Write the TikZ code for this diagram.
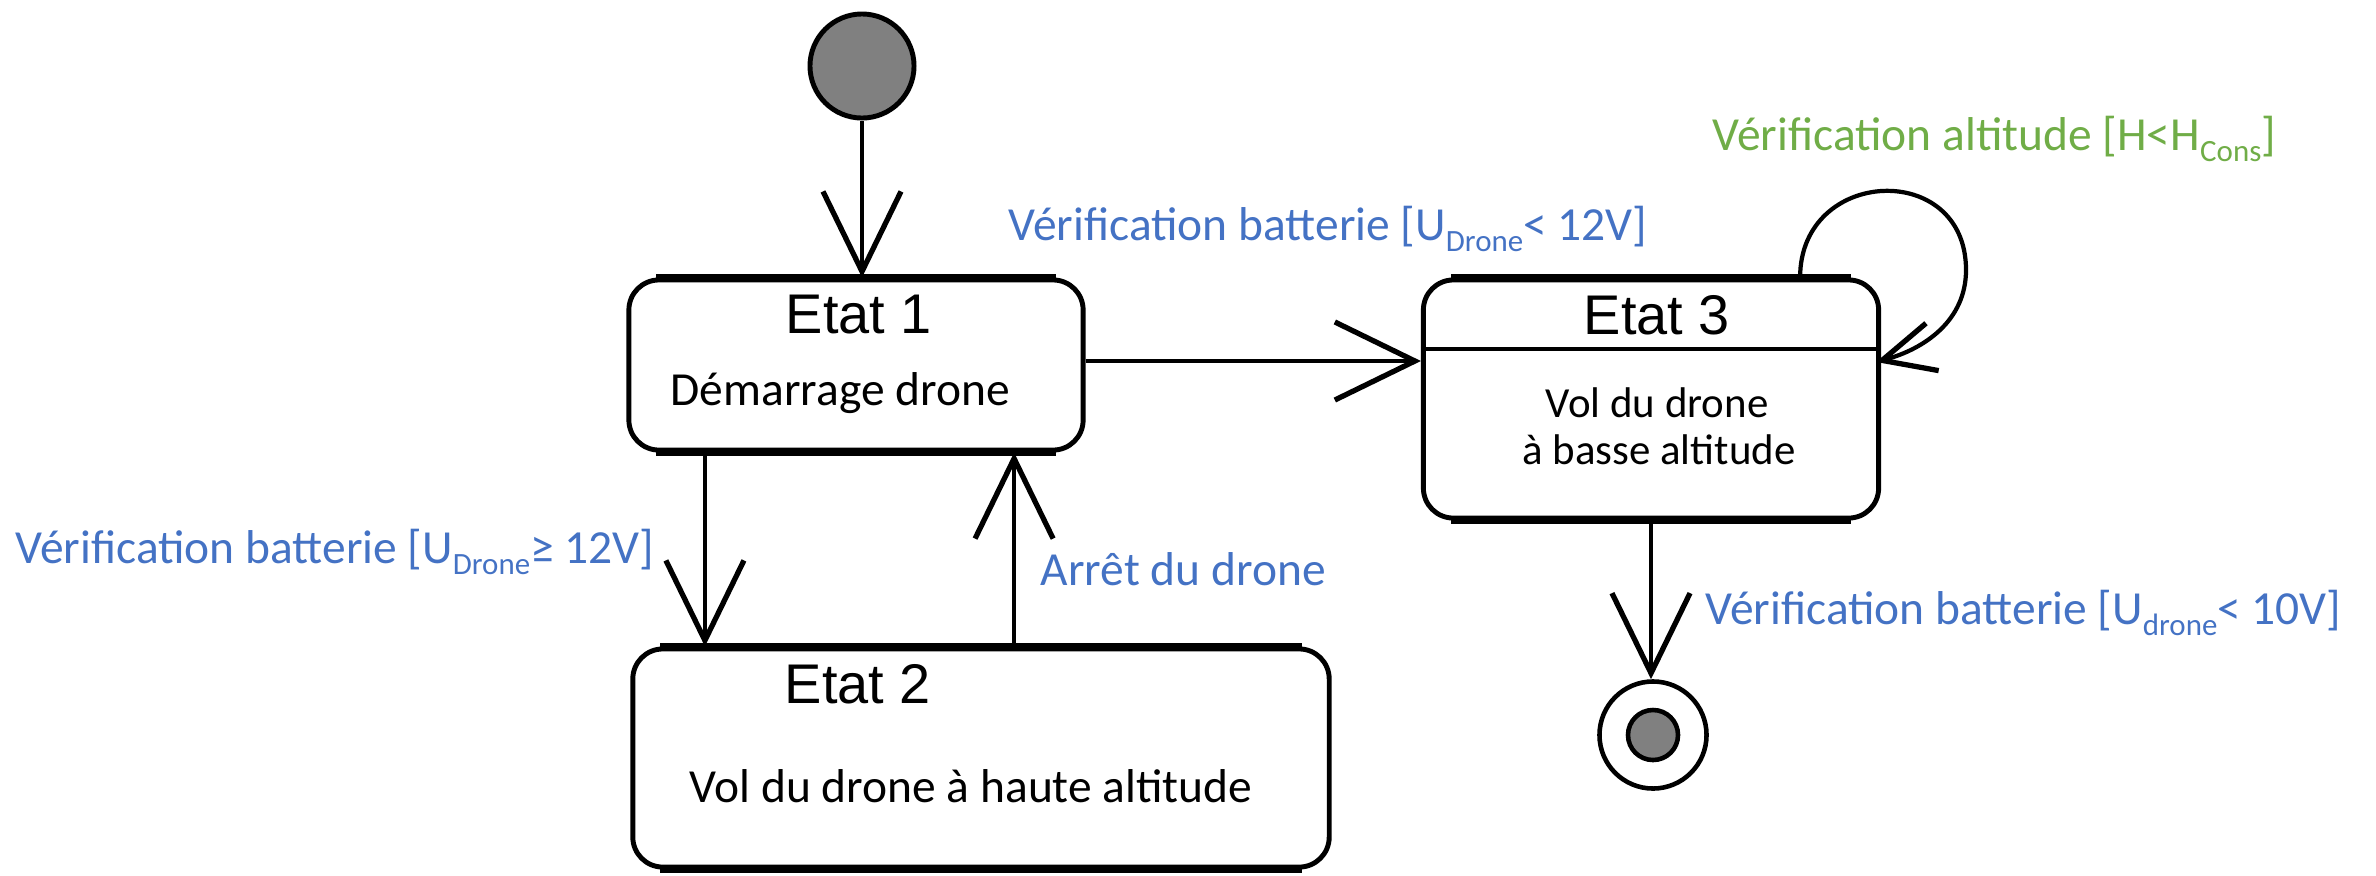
\documentclass[tikz,border=0pt]{standalone}
\usepackage{fontspec}
\setmainfont{Carlito}
\newfontfamily\arialfont{Liberation Sans}
\usetikzlibrary{arrows.meta,positioning,calc}
\definecolor{guardblue}{HTML}{4472C4}
\definecolor{guardgreen}{HTML}{70AD47}
\definecolor{pseudogray}{HTML}{808080}
\newcommand{\ind}[1]{\raisebox{-3.4pt}{\fontsize{8.8}{9}\selectfont #1}}

\begin{document}
\begin{tikzpicture}[
  x=0.01cm, y=-0.01cm,
  every node/.style={font=\fontsize{13.5}{16}\selectfont, inner sep=0pt},
  etat/.style={rectangle, rounded corners=0.3cm, draw, line width=1.4pt, fill=white},
  titre/.style={font=\arialfont\fontsize{15.9}{18}\selectfont, anchor=base},
  garde/.style={text=guardblue, anchor=base west},
  arrow/.style={-{Straight Barb[length=8mm, width=7.8mm, line width=1.5pt]}, line width=1.2pt},
  looparrow/.style={-{Straight Barb[length=5.2mm, width=4.9mm, line width=1.5pt]}, line width=1.2pt},
]
\useasboundingbox (0,0) rectangle (2376,875);

% Pseudo-etats
\node[circle, draw, line width=1.4pt, fill=pseudogray, minimum size=1.04cm] (init) at (862,66) {};
\node[circle, draw, line width=1.3pt, minimum size=1.07cm] (fin) at (1653,735) {};
\node[circle, draw, line width=1.3pt, fill=pseudogray, minimum size=0.5cm] (finin) at (fin) {};

% Etats
\node[etat, minimum width=4.54cm, minimum height=1.70cm] (e1) at (856,365) {};
\node[etat, minimum width=6.96cm, minimum height=2.18cm] (e2) at (981,758) {};
\node[etat, minimum width=4.55cm, minimum height=2.38cm] (e3) at (1651,399) {};
\foreach \n in {e1,e2,e3} {
  \draw[line width=2.2pt] ([xshift=0.3cm]\n.north west) -- ([xshift=-0.3cm]\n.north east);
  \draw[line width=2.2pt] ([xshift=0.3cm]\n.south west) -- ([xshift=-0.3cm]\n.south east);
}
\draw[line width=1.2pt] (e3.west |- 0,349) -- (e3.east |- 0,349);

\node[titre] (e1t) at (859,333) {Etat 1};
\node[anchor=base west] (e1c) at (670,405) {Démarrage drone};
\node[titre] (e2t) at (858,703) {Etat 2};
\node[anchor=base] (e2c) at (971,802) {Vol du drone à haute altitude};
\node[titre] (e3t) at (1657,334) {Etat 3};
\node[anchor=base, font=\fontsize{12.2}{14}\selectfont] (e3c1) at (1657,417) {Vol du drone};
\node[anchor=base, font=\fontsize{12.2}{14}\selectfont] (e3c2) at (1659,464) {à basse altitude};

% Gardes
\node[garde] (g13) at (1008,240) {Vérification batterie [U\ind{Drone}< 12V]};
\node[garde, text=guardgreen] (g33) at (1712,150) {Vérification altitude [H<H\ind{Cons}]};
\node[garde] (g12) at (15,563) {Vérification batterie [U\ind{Drone}≥ 12V]};
\node[garde] (g21) at (1040,585) {Arrêt du drone};
\node[garde] (g3f) at (1705,624) {Vérification batterie [U\ind{drone}< 10V]};

% Transitions
\coordinate (d13) at ([yshift=0.04cm]e1.east);
\coordinate (d12) at ([xshift=-1.51cm]e1.south);
\coordinate (d21) at ([xshift=1.58cm]e1.south);
\coordinate (d33a) at ([xshift=1.49cm]e3.north);
\coordinate (d33b) at ([xshift=-0.05cm, yshift=0.37cm]e3.east);
\coordinate (boucle) at (1966,270);

\draw[arrow] (init) -- (init |- e1.north);
\draw[arrow] (d13) -- (d13 -| e3.west);
\draw[arrow] (d12) -- (d12 |- e2.north);
\draw[arrow] (d21 |- e2.north) -- (d21);
\draw[arrow] (e3.south) -- (e3.south |- fin.north);
\draw[looparrow] (d33a) to[out=90, in=90, looseness=1.7] (boucle) to[out=-90, in=15] (d33b);
\end{tikzpicture}
\end{document}
